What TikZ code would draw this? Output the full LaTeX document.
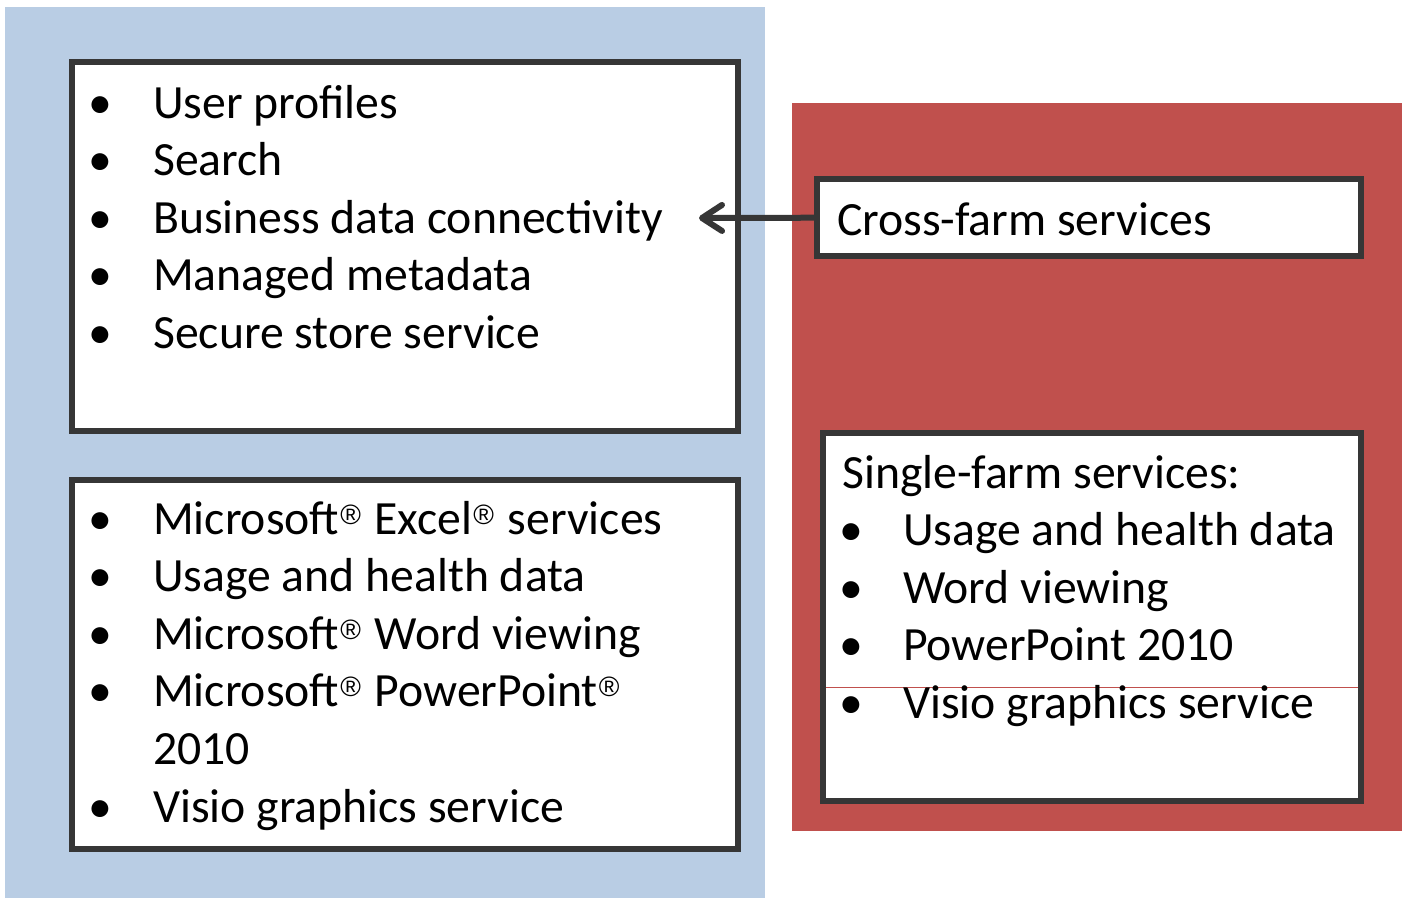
\documentclass[tikz,border=0pt]{standalone}
\usepackage{fontspec}
\setmainfont{Carlito}
\newfontfamily\regfont{Liberation Sans}
\usetikzlibrary{arrows.meta}
\definecolor{farmblue}{HTML}{B9CDE4}
\definecolor{farmred}{HTML}{C0504D}
\definecolor{boxline}{HTML}{363636}
\newcommand{\regmark}{\hspace{1pt}\raisebox{10pt}{\fontsize{28pt}{28pt}\regfont ®}\hspace{3pt}}
\tikzset{
  listbox/.style={draw=boxline,line width=6pt,fill=white,inner sep=0pt,outer sep=0pt},
  item/.style={anchor=base west,inner sep=0pt,font=\fontsize{47.7pt}{57.5pt}\selectfont},
  bul/.style={item},
  link/.style={draw=boxline,line width=6pt,-{Straight Barb[length=20pt,width=26pt,line cap=round,line join=round]}}
}
\begin{document}
\begin{tikzpicture}[x=1pt,y=-1pt]
\useasboundingbox (0,0) rectangle (1402,898);
%farm areas
\fill[farmblue] (5,7) rectangle (765,898);
\fill[farmred] (792,103) rectangle (1402,831);
%boxes
\node[listbox,minimum width=665.7pt,minimum height=369pt] (shared) at (404.9,246.5) {};
\node[listbox,minimum width=665.7pt,minimum height=368.7pt] (local) at (404.9,664.3) {};
\node[listbox,minimum width=544pt,minimum height=77.3pt] (cross) at (1089,217.7) {};
\node[listbox,minimum width=538.3pt,minimum height=368.3pt] (single) at (1092.2,617.2) {};
\draw[farmred,line width=1pt] (826,687) -- (1358,687);
%shared services
\foreach \t [count=\i] in {User profiles,Search,Business data connectivity,Managed metadata,Secure store service}{
  \node[bul] (sb\i) at (88,{118+57.6*(\i-1)}) {•};
  \node[item] (s\i) at (153,{118+57.6*(\i-1)}) {\t};
}
%local services
\foreach \t/\b [count=\i] in {Microsoft\regmark{} Excel\regmark{} services/•,Usage and health data/•,Microsoft\regmark{} Word viewing/•,Microsoft\regmark{} PowerPoint\regmark/•,2010/,Visio graphics service/•}{
  \node[bul] (lb\i) at (88,{534+57.6*(\i-1)}) {\b};
  \node[item] (l\i) at (153,{534+57.6*(\i-1)}) {\t};
}
%cross-farm and single-farm
\node[item] (crosstext) at (837,235) {Cross-farm services};
\node[item] (singletext) at (842,488) {Single-farm services:};
\foreach \t [count=\i] in {Usage and health data,Word viewing,PowerPoint 2010,Visio graphics service}{
  \node[bul] (fb\i) at (839,{488+57.6*\i}) {•};
  \node[item] (f\i) at (903,{488+57.6*\i}) {\t};
}
\coordinate (tip) at (699,218);
\draw[link] (cross.west) -- (tip);
\end{tikzpicture}
\end{document}
